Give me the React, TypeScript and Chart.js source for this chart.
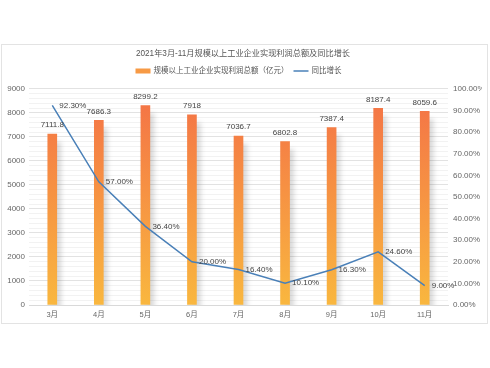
import React, { useEffect, useRef } from "react";
import { Chart, registerables } from "chart.js";

Chart.register(...registerables);

const categories = ["3月", "4月", "5月", "6月", "7月", "8月", "9月", "10月", "11月"];
const profitValues = [7111.8, 7686.3, 8299.2, 7918, 7036.7, 6802.8, 7387.4, 8187.4, 8059.6];
const growthValues = [92.3, 57.0, 36.4, 20.0, 16.4, 10.1, 16.3, 24.6, 9.0];
const titleText = "2021年3月-11月规模以上工业企业实现利润总额及同比增长";
const barLabel = "规模以上工业企业实现利润总额（亿元）";
const lineLabel = "同比增长";

const FONT = "'Liberation Sans', 'Noto Sans CJK SC', sans-serif";
const BAR_LEGEND = "#f79a45";
const LINE_COLOR = "#4a80b8";

const labelPlugin = {
  id: "valueLabels",
  afterDatasetsDraw(chart: any) {
    const ctx = chart.ctx;
    ctx.save();
    ctx.font = `8px ${FONT}`;
    ctx.fillStyle = "#444";
    const barMeta = chart.getDatasetMeta(0);
    barMeta.data.forEach((el: any, i: number) => {
      ctx.textAlign = "center";
      ctx.textBaseline = "bottom";
      ctx.fillText(String(profitValues[i]), el.x, el.y - 5);
    });
    const lineMeta = chart.getDatasetMeta(1);
    lineMeta.data.forEach((el: any, i: number) => {
      ctx.textAlign = "left";
      ctx.textBaseline = "middle";
      ctx.fillText(growthValues[i].toFixed(2) + "%", el.x + 7, el.y);
    });
    ctx.restore();
  },
};

const legendPlugin = {
  id: "customLegend",
  afterDraw(chart: any) {
    const ctx = chart.ctx;
    ctx.save();
    ctx.font = `7.5px ${FONT}`;
    const sw = 15;
    const gap = 3;
    const itemGap = 5;
    const w1 = ctx.measureText(barLabel).width;
    const w2 = ctx.measureText(lineLabel).width;
    const total = sw + gap + w1 + itemGap + sw + gap + w2;
    const cx = (chart.chartArea.left + chart.chartArea.right) / 2;
    let x = cx - total / 2;
    const y = 71;
    ctx.fillStyle = BAR_LEGEND;
    ctx.fillRect(x, y - 2.5, sw, 5);
    x += sw + gap;
    ctx.fillStyle = "#555";
    ctx.textAlign = "left";
    ctx.textBaseline = "middle";
    ctx.fillText(barLabel, x, y);
    x += w1 + itemGap;
    ctx.strokeStyle = LINE_COLOR;
    ctx.lineWidth = 1.5;
    ctx.beginPath();
    ctx.moveTo(x, y);
    ctx.lineTo(x + sw, y);
    ctx.stroke();
    x += sw + gap;
    ctx.fillText(lineLabel, x, y);
    ctx.restore();
  },
};

const shadowPlugin = {
  id: "barShadow",
  beforeDatasetDraw(chart: any, args: any) {
    if (args.index === 0) {
      const ctx = chart.ctx;
      ctx.save();
      ctx.shadowColor = "rgba(0,0,0,0.15)";
      ctx.shadowBlur = 5;
      ctx.shadowOffsetX = 4;
      ctx.shadowOffsetY = 8;
    }
  },
  afterDatasetDraw(chart: any, args: any) {
    if (args.index === 0) chart.ctx.restore();
  },
};

export default function App() {
  const ref = useRef<HTMLCanvasElement>(null);
  useEffect(() => {
    if (!ref.current) return;
    const chart = new Chart(ref.current, {
      type: "bar",
      data: {
        labels: categories,
        datasets: [
          {
            type: "bar",
            label: barLabel,
            data: profitValues,
            yAxisID: "y",
            barThickness: 9,
            backgroundColor: (c: any) => {
              const ch = c.chart;
              const area = ch.chartArea;
              if (!area) return BAR_LEGEND;
              const yScale = ch.scales.y;
              const top = yScale.getPixelForValue(8300);
              const g = ch.ctx.createLinearGradient(0, area.bottom, 0, top);
              g.addColorStop(0, "#f9b73f");
              g.addColorStop(1, "#f47646");
              return g;
            },
            order: 2,
          } as any,
          {
            type: "line",
            label: lineLabel,
            data: growthValues,
            yAxisID: "y1",
            borderColor: LINE_COLOR,
            backgroundColor: LINE_COLOR,
            borderWidth: 1.5,
            pointRadius: 0,
            tension: 0,
            order: 1,
          } as any,
        ],
      },
      options: {
        animation: false,
        responsive: false,
        layout: { padding: { left: 4, right: 8, top: 49, bottom: 44 } },
        plugins: {
          title: {
            display: true,
            text: titleText,
            color: "#555",
            font: { family: FONT, size: 8.2, weight: "normal" },
            padding: { top: 0, bottom: 30 },
          },
          legend: { display: false },
          tooltip: { enabled: false },
        },
        scales: {
          x: {
            grid: { display: false, drawTicks: false, tickLength: 0 },
            border: { display: true, color: "#d9d9d9" },
            ticks: { color: "#666", font: { family: FONT, size: 7.5 }, padding: 5 },
          },
          y: {
            position: "left",
            min: 0,
            max: 9000,
            afterFit: (s: any) => {
              s.width = 25;
            },
            ticks: {
              stepSize: 200,
              autoSkip: false,
              color: "#666",
              font: { family: FONT, size: 8 },
              padding: 4,
              callback: (v: any) => (v % 1000 === 0 ? String(v) : ""),
            },
            grid: {
              drawTicks: false,
              tickLength: 0,
              color: (c: any) => (c.tick && c.tick.value % 1000 === 0 ? "#e2e2e2" : "#f2f2f2"),
              lineWidth: 1,
            },
            border: { display: false },
          },
          y1: {
            position: "right",
            min: 0,
            max: 100,
            afterFit: (s: any) => {
              s.width = 34;
            },
            ticks: {
              stepSize: 10,
              color: "#666",
              font: { family: FONT, size: 8 },
              padding: 5,
              callback: (v: any) => Number(v).toFixed(2) + "%",
            },
            grid: { display: false, drawTicks: false, tickLength: 0 },
            border: { display: false },
          },
        },
      },
      plugins: [shadowPlugin, labelPlugin, legendPlugin],
    });
    return () => chart.destroy();
  }, []);
  return (
    <div style={{ position: "absolute", left: 0, top: 0, width: 490, height: 368, background: "#fff" }}>
      <div
        style={{
          position: "absolute",
          left: 1,
          top: 44,
          width: 485,
          height: 278,
          border: "1px solid #e3e3e3",
        }}
      />
      <canvas ref={ref} width={490} height={368} style={{ position: "absolute", left: 0, top: 0 }} />
    </div>
  );
}
